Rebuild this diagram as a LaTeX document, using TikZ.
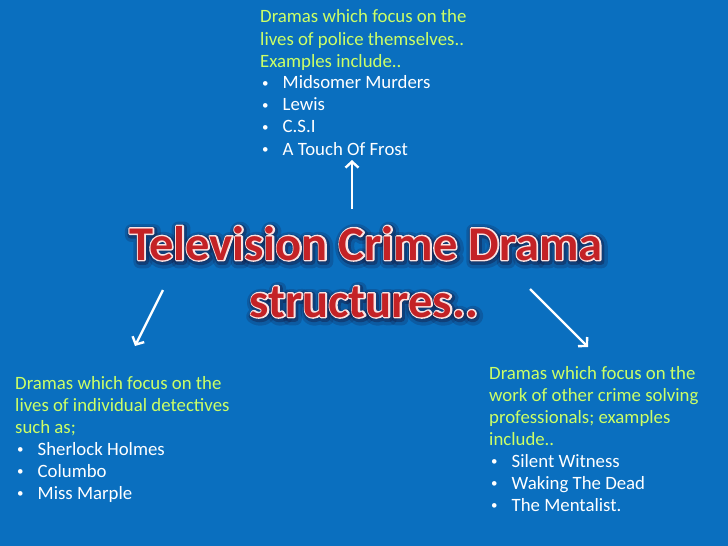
\documentclass[tikz,border=0pt]{standalone}
\usepackage{fontspec}
\setmainfont{Carlito}
\newfontface\titlefont{Carlito Bold}
\newfontface\titleedge{Carlito Bold}[FakeBold=6]
\newfontface\titleglow{Carlito Bold}[FakeBold=14]
\newfontface\titlehalo{Carlito Bold}[FakeBold=26]
\usetikzlibrary{arrows.meta}
\definecolor{bg}{RGB}{10,111,191}
\definecolor{lime}{RGB}{204,255,102}
\definecolor{tred}{RGB}{196,34,38}
\definecolor{edge}{RGB}{250,228,228}
\definecolor{shade}{RGB}{20,22,60}
\newcommand\bul[1]{\makebox[22.5pt][l]{\hspace{2pt}\raisebox{1.3pt}{\fontsize{13}{13}\selectfont•}}#1}
\newcommand\tlineA{Television Crime Drama}
\newcommand\tlineB{structures..}
\begin{document}
\begin{tikzpicture}[x=1pt,y=-1pt,
  body/.style={anchor=base west, inner sep=0pt, text=white, font=\fontsize{18.8}{22}\selectfont},
  conn/.style={draw=white, line width=2.4pt, -{Straight Barb[length=6pt,width=13pt]}},
  ttl/.style={anchor=base, inner sep=0pt, font=\fontsize{48.5}{56}\selectfont}]
\fill[bg] (0,0) rectangle (728,546);
\useasboundingbox (0,0) rectangle (728,546);

% top block
\node[body] (topblk) at (260,23) {\begin{tabular}[t]{@{}l@{}}
\color{lime}Dramas which focus on the\\
\color{lime}lives of police themselves..\\
\color{lime}Examples include..\\
\bul{Midsomer Murders}\\
\bul{Lewis}\\
\bul{C.S.I}\\
\bul{A Touch Of Frost}
\end{tabular}};

% left block
\node[body] (leftblk) at (15,389) {\begin{tabular}[t]{@{}l@{}}
\color{lime}Dramas which focus on the\\
\color{lime}lives of individual detectives\\
\color{lime}such as;\\
\bul{Sherlock Holmes}\\
\bul{Columbo}\\
\bul{Miss Marple}
\end{tabular}};

% right block
\node[body] (rightblk) at (489,379) {\begin{tabular}[t]{@{}l@{}}
\color{lime}Dramas which focus on the\\
\color{lime}work of other crime solving\\
\color{lime}professionals; examples\\
\color{lime}include..\\
\bul{Silent Witness}\\
\bul{Waking The Dead}\\
\bul{The Mentalist.}
\end{tabular}};

% title: soft glow, white edge, red fill
\begin{scope}[line join=round]
\node[ttl, text=shade, opacity=0.22, line join=round] (haloA) at (367.5,262) {\titlehalo\tlineA};
\node[ttl, text=shade, opacity=0.22, line join=round] (haloB) at (365.5,319) {\titlehalo\tlineB};
\node[ttl, text=shade, opacity=0.40, line join=round] (glowA) at (367,261.5) {\titleglow\tlineA};
\node[ttl, text=shade, opacity=0.40, line join=round] (glowB) at (365,318.5) {\titleglow\tlineB};
\node[ttl, text=edge, line join=round] (edgeA) at (366,260) {\titleedge\tlineA};
\node[ttl, text=edge, line join=round] (edgeB) at (364,317) {\titleedge\tlineB};
\end{scope}
\node[ttl, text=tred] (title1) at (366,260) {\titlefont\tlineA};
\node[ttl, text=tred] (title2) at (364,317) {\titlefont\tlineB};

% arrows
\coordinate (upS) at (352,209);
\coordinate (upE) at (352,160);
\coordinate (lS) at (163,290);
\coordinate (lE) at (135,346);
\coordinate (rS) at (530,289);
\coordinate (rE) at (588,347);
\draw[conn] (upS) -- (upE);
\draw[conn] (lS) -- (lE);
\draw[conn] (rS) -- (rE);
\end{tikzpicture}
\end{document}
